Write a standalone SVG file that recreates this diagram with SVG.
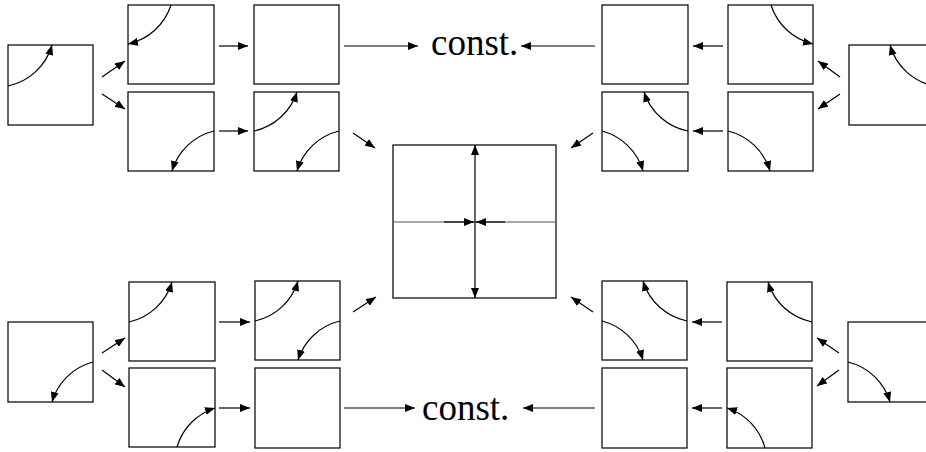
<svg xmlns="http://www.w3.org/2000/svg" width="926" height="452" viewBox="0 0 926 452">
<style>
.box{fill:#fff;stroke:#111;stroke-width:1.3}
.cv{fill:none;stroke:#000;stroke-width:1.2;marker-end:url(#ah)}
.ar{fill:none;stroke:#000;stroke-width:1.2;marker-end:url(#ah)}
.lbl{font-family:"Liberation Serif","Times New Roman",serif;font-size:37px;fill:#000}
</style>
<defs>
<marker id="ah" markerUnits="userSpaceOnUse" markerWidth="10" markerHeight="8" refX="10" refY="4" orient="auto">
<path d="M0,0 L10,4 L0,8 z" fill="#000"/>
</marker>
</defs>
<g id="L1"><rect class="box" x="8" y="45" width="85" height="80"/><path class="cv" d="M8,86 A58,58 0 0 0 52,45"/></g>
<g id="L2"><rect class="box" x="8" y="322" width="85" height="80"/><path class="cv" d="M93,362 A58,58 0 0 0 52,402"/></g>
<g id="A1"><rect class="box" x="128" y="5" width="86" height="79"/><path class="cv" d="M171,5 A58,58 0 0 1 128,44"/></g>
<g id="A2"><rect class="box" x="128" y="92" width="86" height="79"/><path class="cv" d="M214,131 A58,58 0 0 0 172,171"/></g>
<g id="A3"><rect class="box" x="129" y="282" width="86" height="79"/><path class="cv" d="M129,322 A58,58 0 0 0 172,282"/></g>
<g id="A4"><rect class="box" x="129" y="368" width="86" height="79"/><path class="cv" d="M177,447 A58,58 0 0 1 215,408"/></g>
<g id="B1"><rect class="box" x="254" y="5" width="85" height="79"/></g>
<g id="B2"><rect class="box" x="254" y="92" width="85" height="79"/><path class="cv" d="M254,131 A58,58 0 0 0 297,92"/><path class="cv" d="M339,131 A58,58 0 0 0 297,171"/></g>
<g id="B3"><rect class="box" x="255" y="281" width="85" height="79"/><path class="cv" d="M255,321 A58,58 0 0 0 298,281"/><path class="cv" d="M340,321 A58,58 0 0 0 298,360"/></g>
<g id="B4"><rect class="box" x="255" y="368" width="85" height="80"/></g>
<g id="center"><rect class="box" x="393" y="145" width="163" height="153"/>
<line x1="393" y1="222" x2="556" y2="222" stroke="#555" stroke-width="1.2"/>
<line x1="475" y1="222" x2="475" y2="145" class="ar"/>
<line x1="475" y1="222" x2="475" y2="298" class="ar"/>
<line x1="444" y1="222" x2="474" y2="222" class="ar"/>
<line x1="505" y1="222" x2="476" y2="222" class="ar"/>
</g>
<g id="C1"><rect class="box" x="602" y="5" width="86" height="79"/></g>
<g id="C2"><rect class="box" x="602" y="92" width="86" height="79"/><path class="cv" d="M688,131 A58,58 0 0 1 644,92"/><path class="cv" d="M602,131 A58,58 0 0 1 643,171"/></g>
<g id="C3"><rect class="box" x="602" y="281" width="85" height="79"/><path class="cv" d="M687,321 A58,58 0 0 1 643,281"/><path class="cv" d="M602,321 A58,58 0 0 1 643,360"/></g>
<g id="C4"><rect class="box" x="602" y="368" width="85" height="80"/></g>
<g id="D1"><rect class="box" x="728" y="5" width="85" height="79"/><path class="cv" d="M771,5 A58,58 0 0 0 813,44"/></g>
<g id="D2"><rect class="box" x="728" y="92" width="85" height="79"/><path class="cv" d="M728,131 A58,58 0 0 1 770,171"/></g>
<g id="D3"><rect class="box" x="727" y="282" width="85" height="79"/><path class="cv" d="M812,322 A58,58 0 0 1 768,282"/></g>
<g id="D4"><rect class="box" x="727" y="368" width="85" height="80"/><path class="cv" d="M765,448 A58,58 0 0 0 727,408"/></g>
<g id="R1"><rect class="box" x="849" y="45" width="85" height="80"/><path class="cv" d="M934,86 A58,58 0 0 1 890,45"/></g>
<g id="R2"><rect class="box" x="848" y="322" width="85" height="80"/><path class="cv" d="M848,362 A58,58 0 0 1 890,402"/></g>
<g id="constTop"><text class="lbl" x="431" y="55">const.</text></g>
<g id="constBottom"><text class="lbl" x="422" y="420">const.</text></g>
<g id="connectors">
<line class="ar" x1="102" y1="77" x2="125" y2="61"/>
<line class="ar" x1="102" y1="94" x2="125" y2="109"/>
<line class="ar" x1="219" y1="46" x2="248" y2="46"/>
<line class="ar" x1="219" y1="131" x2="248" y2="131"/>
<line class="ar" x1="344" y1="46" x2="418" y2="46"/>
<line class="ar" x1="353" y1="133" x2="375" y2="148"/>
<line class="ar" x1="595" y1="46" x2="521" y2="46"/>
<line class="ar" x1="593" y1="133" x2="571" y2="148"/>
<line class="ar" x1="723" y1="46" x2="693" y2="46"/>
<line class="ar" x1="723" y1="131" x2="693" y2="131"/>
<line class="ar" x1="840" y1="77" x2="818" y2="61"/>
<line class="ar" x1="840" y1="94" x2="818" y2="109"/>
<line class="ar" x1="102" y1="353" x2="125" y2="338"/>
<line class="ar" x1="102" y1="370" x2="125" y2="387"/>
<line class="ar" x1="219" y1="322" x2="250" y2="322"/>
<line class="ar" x1="219" y1="408" x2="250" y2="408"/>
<line class="ar" x1="353" y1="312" x2="376" y2="297"/>
<line class="ar" x1="344" y1="408" x2="415" y2="408"/>
<line class="ar" x1="595" y1="408" x2="523" y2="408"/>
<line class="ar" x1="593" y1="312" x2="571" y2="297"/>
<line class="ar" x1="722" y1="322" x2="692" y2="322"/>
<line class="ar" x1="722" y1="408" x2="692" y2="408"/>
<line class="ar" x1="839" y1="353" x2="817" y2="338"/>
<line class="ar" x1="839" y1="370" x2="817" y2="386"/>
</g>
</svg>
